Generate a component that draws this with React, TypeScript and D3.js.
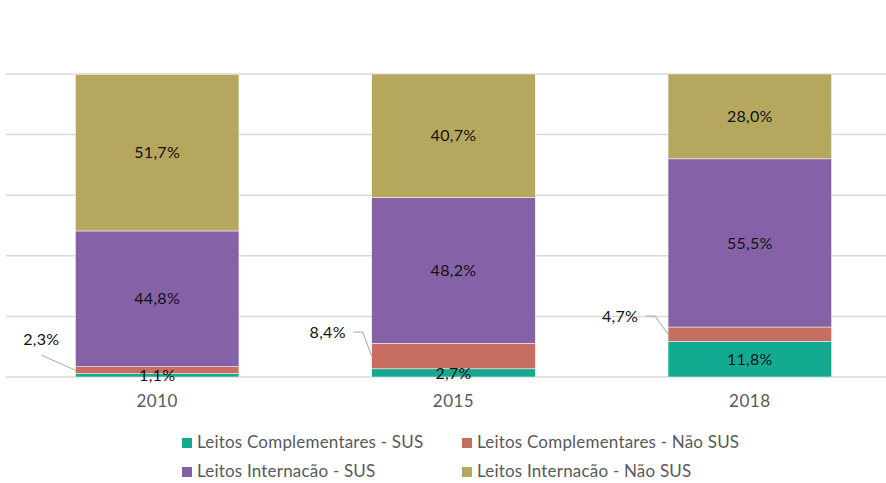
import React from 'react';
import * as d3 from 'd3';

const years = ['2010', '2015', '2018'];
const seriesNames = [
  'Leitos Complementares - SUS',
  'Leitos Complementares - Não SUS',
  'Leitos Internacão - SUS',
  'Leitos Internacão - Não SUS',
];
const compSus = [1.1, 2.7, 11.8];
const compNaoSus = [2.3, 8.4, 4.7];
const intSus = [44.8, 48.2, 55.5];
const intNaoSus = [51.7, 40.7, 28.0];
const colors = ['#12AB91', '#C76E61', '#8562A8', '#B5A85E'];
const yTicks = [0, 20, 40, 60, 80, 100];

// offsets of the outside labels (Não SUS complementares) from the bar edge
const calloutOffset = [
  { dx: -34, dy: -31, elbow: false },
  { dx: -44, dy: -24, elbow: true },
  { dx: -48, dy: -18, elbow: true },
];

const W = 886;
const H = 483;
const font = 'Lato, "Open Sans", sans-serif';
const fmt = (v: number) => v.toFixed(1).replace('.', ',') + '%';

export default function App() {
  const rows = years.map((yr, i) => ({
    year: yr,
    s0: compSus[i],
    s1: compNaoSus[i],
    s2: intSus[i],
    s3: intNaoSus[i],
  }));
  const keys = ['s0', 's1', 's2', 's3'];
  const stacked = d3.stack<any>().keys(keys)(rows);

  const x = d3.scaleBand().domain(years).range([9, 898]).paddingInner(0.448).paddingOuter(0.224);
  const y = d3.scaleLinear().domain([0, 100]).range([377, 74]);

  return (
    <svg width={W} height={H} style={{ position: 'absolute', left: 0, top: 0, background: '#fff' }}>
      {yTicks.map((t) => (
        <line key={t} x1={6} x2={W} y1={y(t)} y2={y(t)} stroke="#D9D9D9" strokeWidth={1.5} />
      ))}
      {stacked.map((layer, si) =>
        layer.map((d, ci) => (
          <rect
            key={si + '-' + ci}
            x={x(years[ci])!}
            width={x.bandwidth()}
            y={y(d[1])}
            height={y(d[0]) - y(d[1])}
            fill={colors[si]}
            stroke="#fff"
            strokeWidth={0.5}
          />
        ))
      )}
      {stacked.map((layer, si) =>
        si === 1
          ? null
          : layer.map((d, ci) => (
              <text
                key={'l' + si + '-' + ci}
                x={x(years[ci])! + x.bandwidth() / 2}
                y={(y(d[0]) + y(d[1])) / 2}
                dy="0.35em"
                textAnchor="middle"
                fontFamily={font}
                fontSize={16}
                letterSpacing={0.3}
                fill="#111"
              >
                {fmt(d[1] - d[0])}
              </text>
            ))
      )}
      {stacked[1].map((d, ci) => {
        const bx = x(years[ci])!;
        const by = (y(d[0]) + y(d[1])) / 2;
        const o = calloutOffset[ci];
        const lx = bx + o.dx;
        const ly = by + o.dy;
        const path = o.elbow
          ? `M${lx + 26},${ly} L${lx + 35},${ly} L${bx},${by}`
          : `M${lx},${ly + 16} L${bx},${by}`;
        return (
          <g key={'c' + ci}>
            <path d={path} fill="none" stroke="#A6A6A6" strokeWidth={1} />
            <text x={lx} y={ly} dy="0.35em" textAnchor="middle" fontFamily={font} fontSize={16} letterSpacing={0.3} fill="#111">
              {fmt(d[1] - d[0])}
            </text>
          </g>
        );
      })}
      {years.map((yr) => (
        <text
          key={yr}
          x={x(yr)! + x.bandwidth() / 2}
          y={401}
          dy="0.35em"
          textAnchor="middle"
          fontFamily={font}
          fontSize={17}
          letterSpacing={0.5}
          fill="#595959"
        >
          {yr}
        </text>
      ))}
      {seriesNames.map((name, i) => {
        const lx = i % 2 === 0 ? 182 : 462;
        const ly = i < 2 ? 442 : 471;
        return (
          <g key={name}>
            <rect x={lx} y={ly - 4} width={10} height={10} fill={colors[i]} />
            <text x={lx + 15} y={ly} dy="0.35em" fontFamily={font} fontSize={17} letterSpacing={0.2} fill="#595959">
              {name}
            </text>
          </g>
        );
      })}
    </svg>
  );
}
